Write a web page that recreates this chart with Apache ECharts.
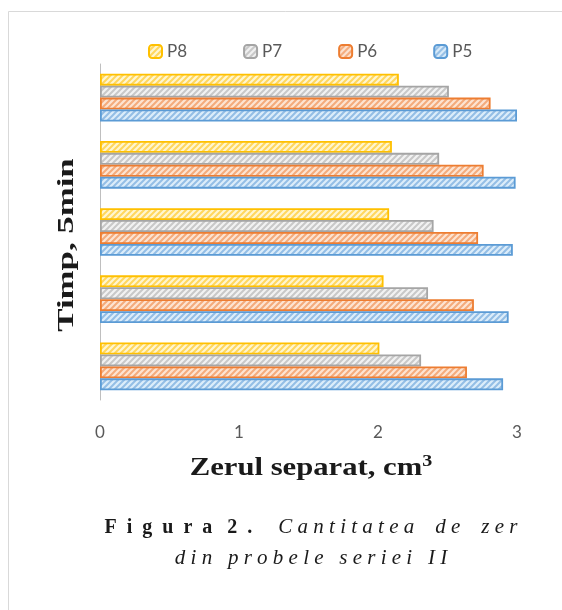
<!DOCTYPE html>
<html>
<head>
<meta charset="utf-8">
<script src="https://cdn.jsdelivr.net/npm/echarts@6/dist/echarts.min.js"></script>
<style>
  html, body { margin: 0; padding: 0; background: #fff; }
  #chart { width: 562px; height: 610px; }
</style>
</head>
<body>
<div id="chart"></div>
<script>
// time points, bottom to top (labels hidden in the original)
const categories = ['5', '10', '15', '20', '25']
const xTicks = [0, 1, 2, 3]
const seriesNames = ['P8', 'P7', 'P6', 'P5']
const p8 = [2.01, 2.04, 2.08, 2.10, 2.15]
const p7 = [2.31, 2.36, 2.40, 2.44, 2.51]
const p6 = [2.64, 2.69, 2.72, 2.76, 2.81]
const p5 = [2.90, 2.94, 2.97, 2.99, 3.00]

// hatched fill like the excel "wide upward diagonal" pattern
function hatch(bg, fg) {
  let c = document.createElement('canvas')
  c.width = 6
  c.height = 6
  let g = c.getContext('2d')
  g.fillStyle = bg
  g.fillRect(0, 0, 6, 6)
  g.strokeStyle = fg
  g.lineWidth = 2
  g.beginPath()
  g.moveTo(-1, 7); g.lineTo(7, -1)
  g.moveTo(-4, 4); g.lineTo(4, -4)
  g.moveTo(2, 10); g.lineTo(10, 2)
  g.stroke()
  return { image: c, repeat: 'repeat' }
}

const styles = {
  P8: { border: '#ffc000', fill: hatch('#fff6d0', '#ffd75e') },
  P7: { border: '#a5a5a5', fill: hatch('#f2f2f2', '#c8c8c8') },
  P6: { border: '#ed7d31', fill: hatch('#fde4d2', '#f4ab7c') },
  P5: { border: '#5b9bd5', fill: hatch('#dcedfa', '#94bee5') }
}
const values = { P8: p8, P7: p7, P6: p6, P5: p5 }

let chart = echarts.init(document.getElementById('chart'), null, { renderer: 'canvas' })

const serif = '"Liberation Serif", "Times New Roman", serif'
const sans = 'Lato, "Open Sans", sans-serif'

let option = {
  animation: false,
  backgroundColor: '#fff',
  graphic: [
    {
      type: 'rect',
      shape: { x: 8.5, y: 11.5, width: 600, height: 650 },
      style: { fill: 'none', stroke: '#d9d9d9', lineWidth: 1 },
      silent: true
    },
    // y axis title
    {
      type: 'text',
      x: 67,
      y: 245,
      rotation: Math.PI / 2,
      scaleX: 1.45,
      style: {
        text: 'Timp, 5min',
        align: 'center',
        verticalAlign: 'middle',
        fontFamily: serif, fontSize: 24, fontWeight: 'bold', fill: '#1a1a1a'
      }
    },
    // x axis title
    {
      type: 'text',
      x: 311,
      y: 468,
      scaleX: 1.18,
      style: {
        text: '{t|Zerul separat, cm}{sup|3}',
        align: 'center',
        verticalAlign: 'middle',
        rich: {
          t: { fontFamily: serif, fontSize: 26, fontWeight: 'bold', fill: '#1a1a1a' },
          sup: { fontFamily: serif, fontSize: 17, fontWeight: 'bold', fill: '#1a1a1a', padding: [0, 0, 12, 0] }
        }
      }
    },
    // caption
    {
      type: 'text',
      x: 311,
      y: 512,
      style: {
        text: '{b|F  i  g  u  r  a   2  . }{i|    C a n t i t a t e a    d e    z e r}\n{i|d i n   p r o b e l e   s e r i e i   I I}',
        align: 'center',
        lineHeight: 31,
        rich: {
          b: { fontFamily: serif, fontSize: 20, fontWeight: 'bold', fill: '#1a1a1a', lineHeight: 31 },
          i: { fontFamily: serif, fontSize: 21, fontStyle: 'italic', fill: '#1a1a1a', lineHeight: 31 }
        }
      }
    }
  ],
  legend: {
    top: 38,
    left: 143,
    itemWidth: 13,
    itemHeight: 13,
    itemGap: 56,
    textStyle: { color: '#595959', fontSize: 17, fontFamily: sans },
    data: seriesNames
  },
  grid: { left: 100, right: 45, top: 64, bottom: 210, containLabel: false },
  xAxis: {
    type: 'value',
    min: 0,
    max: 3,
    interval: 1,
    data: xTicks,
    axisLine: { show: false },
    axisTick: { show: false },
    splitLine: { show: false },
    axisLabel: { color: '#595959', fontSize: 17, fontFamily: sans, margin: 24 }
  },
  yAxis: {
    type: 'category',
    data: categories,
    axisLine: { show: true, lineStyle: { color: '#bfbfbf', width: 1 } },
    axisTick: { show: false },
    axisLabel: { show: false }
  },
  series: seriesNames.map(n => ({
    name: n,
    type: 'bar',
    data: values[n],
    barGap: '0%',
    barCategoryGap: '29%',
    itemStyle: { color: styles[n].fill, borderColor: styles[n].border, borderWidth: 1.8 }
  }))
}

chart.setOption(option)
</script>
</body>
</html>
